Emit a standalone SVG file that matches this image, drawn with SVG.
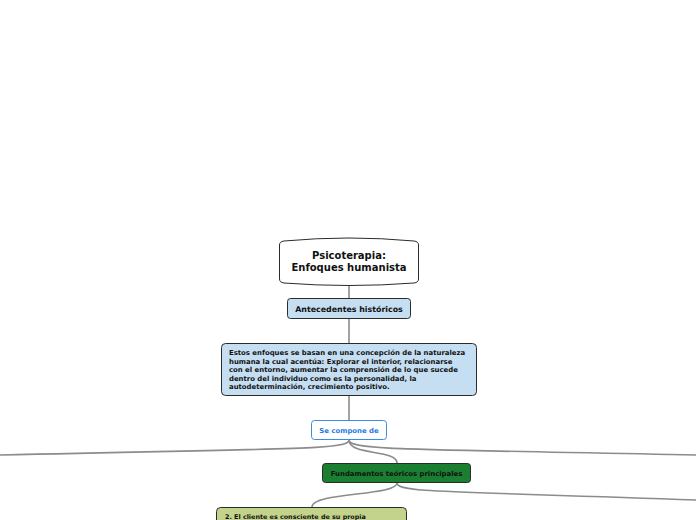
<svg xmlns="http://www.w3.org/2000/svg" width="696" height="520" viewBox="0 0 696 520">
<style>
text{font-family:"DejaVu Sans","Verdana",sans-serif;font-weight:bold;fill:#111}
.c{fill:none;stroke:#8c8c8c;stroke-width:1.6}
.blue{fill:#c5def2;stroke:#2b2b2b;stroke-width:1}
</style>
<rect width="696" height="520" fill="#fff"/>
<g id="connectors">
<path class="c" d="M349,284 L349,298"/>
<path class="c" d="M349,319 L349,343"/>
<path class="c" d="M349,396 L349,420"/>
<path class="c" d="M349,440 C349,450 300,448 0,455" stroke-width="2.2"/>
<path class="c" d="M349,440 C349,450 400,449 696,455" stroke-width="2.2"/>
<path class="c" d="M349,440 C349,456 397,449 397,463"/>
<path class="c" d="M397,483 C397,496 312,492 312,507"/>
<path class="c" d="M397,483 C397,493 450,491 696,500" stroke-width="2"/>
</g>
<g id="root">
<path d="M279.5,245 Q279.5,241.5 284,241 Q349,235 414,241 Q418.5,241.5 418.5,245 L418.5,279 Q418.5,282.5 414,283 Q349,288 284,283 Q279.5,282.5 279.5,279 Z" fill="#fff" stroke="#2b2b2b" stroke-width="1"/>
<text x="349" y="259" font-size="10" text-anchor="middle">Psicoterapia:</text>
<text x="349" y="271" font-size="10" text-anchor="middle">Enfoques humanista</text>
</g>
<g id="antecedentes">
<rect class="blue" x="287.5" y="298.5" width="123" height="20" rx="3"/>
<text x="349" y="311.5" font-size="7.9" text-anchor="middle">Antecedentes históricos</text>
</g>
<g id="descripcion">
<rect class="blue" x="221.5" y="343.5" width="255" height="52" rx="4"/>
<text font-size="6.9">
<tspan x="229" y="355">Estos enfoques se basan en una concepción de la naturaleza</tspan>
<tspan x="229" y="363.5">humana la cual acentúa: Explorar el interior, relacionarse</tspan>
<tspan x="229" y="372">con el entorno, aumentar la comprensión de lo que sucede</tspan>
<tspan x="229" y="380.5">dentro del individuo como es la personalidad, la</tspan>
<tspan x="229" y="389">autodeterminación, crecimiento positivo.</tspan>
</text>
</g>
<g id="secompone">
<rect x="311.5" y="420.5" width="75" height="19" rx="3" fill="#fff" stroke="#3b8ae6" stroke-width="1"/>
<text x="349" y="432.5" font-size="6.9" text-anchor="middle" style="fill:#1f7be0">Se compone de</text>
</g>
<g id="fundamentos">
<rect x="322.5" y="463.5" width="148" height="19" rx="3" fill="#1a7f30" stroke="#2b2b2b" stroke-width="1"/>
<text x="396.5" y="475.5" font-size="6.9" text-anchor="middle">Fundamentos teóricos principales</text>
</g>
<g id="cliente">
<rect x="216.5" y="507.5" width="190" height="30" rx="4" fill="#c3d38b" stroke="#2b2b2b" stroke-width="1"/>
<text x="225" y="519" font-size="6.4">2. El cliente es consciente de su propia</text>
</g>
</svg>
